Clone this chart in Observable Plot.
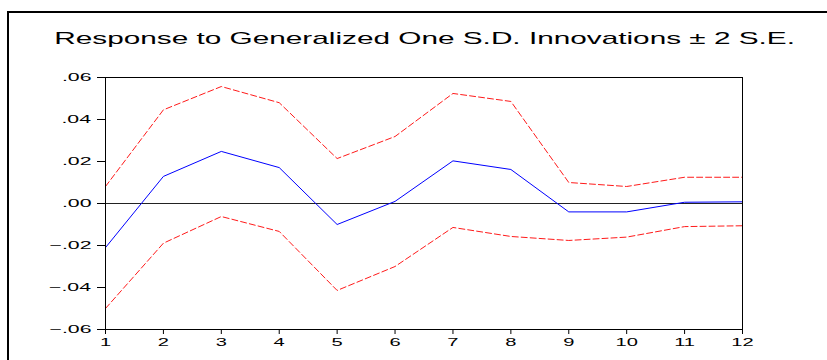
<!DOCTYPE html>
<html>
<head>
<meta charset="utf-8">
<script src="https://cdn.jsdelivr.net/npm/d3@7"></script>
<script src="https://cdn.jsdelivr.net/npm/@observablehq/plot@0.6"></script>
<style>
  html, body { margin: 0; padding: 0; background: #fff; }
  body { width: 827px; height: 360px; position: relative; overflow: hidden; font-family: Arial, "Liberation Sans", Helvetica, sans-serif; }
  #frame { position: absolute; left: 7px; top: 11px; width: 900px; height: 400px; border-left: 2px solid #000; border-top: 2px solid #000; box-sizing: border-box; }
  #title { position: absolute; left: 11px; top: 30px; width: 827px; text-align: center; font-size: 17px; line-height: 17px; color: #000; white-space: nowrap; }
  #title span { display: inline-block; transform: scaleX(1.75); transform-origin: center; }
  #chart { position: absolute; left: 0; top: 0; }
</style>
</head>
<body>
<div id="frame"></div>
<div id="title"><span>Response to Generalized One S.D. Innovations ± 2 S.E.</span></div>
<div id="chart"></div>
<script>
const steps = [1, 2, 3, 4, 5, 6, 7, 8, 9, 10, 11, 12];
const response = [-0.021, 0.0129, 0.0248, 0.0171, -0.010, 0.001, 0.0203, 0.0162, -0.004, -0.004, 0.0006, 0.0008];
const upperBand = [0.0081, 0.0446, 0.0557, 0.048, 0.0214, 0.0319, 0.0524, 0.0486, 0.010, 0.0081, 0.0125, 0.0125];
const lowerBand = [-0.050, -0.0189, -0.0062, -0.0133, -0.0414, -0.030, -0.0114, -0.0157, -0.0176, -0.016, -0.011, -0.0106];
const yTicks = [-0.06, -0.04, -0.02, 0, 0.02, 0.04, 0.06];

const rows = (vals) => steps.map((s, i) => ({step: s, value: vals[i]}));
const fmt = (v) => d3.format(".2f")(v).replace("0.", ".");

const chart = Plot.plot({
  width: 827,
  height: 360,
  marginLeft: 105,
  marginRight: 85,
  marginTop: 77,
  marginBottom: 31,
  style: {fontFamily: 'Arial, "Liberation Sans", Helvetica, sans-serif', fontSize: "11.5px", color: "#000", background: "transparent"},
  x: {domain: [1, 12], ticks: steps, tickSize: 5, tickPadding: 3, tickFormat: d => String(d), label: null},
  y: {domain: [-0.06, 0.06], ticks: yTicks, tickSize: 8, tickPadding: 6, tickFormat: fmt, label: null},
  marks: [
    Plot.ruleY([0], {stroke: "#222", strokeWidth: 1}),
    Plot.line(rows(upperBand), {x: "step", y: "value", stroke: "#ff1a1a", strokeWidth: 1, strokeDasharray: "6,3"}),
    Plot.line(rows(lowerBand), {x: "step", y: "value", stroke: "#ff1a1a", strokeWidth: 1, strokeDasharray: "6,3"}),
    Plot.line(rows(response), {x: "step", y: "value", stroke: "#0000ff", strokeWidth: 1}),
    Plot.frame({stroke: "#000", strokeWidth: 1})
  ]
});
document.getElementById("chart").appendChild(chart);

// stretch tick labels horizontally, like the reference, keeping their anchor point
function stretch(selector, anchor, k) {
  chart.querySelectorAll(selector).forEach(t => {
    const b = t.getBBox();
    const ax = anchor === "end" ? b.x + b.width : b.x + b.width / 2;
    const prev = t.getAttribute("transform") || "";
    t.setAttribute("transform", `${prev} translate(${ax},0) scale(${k},1) translate(${-ax},0)`);
  });
}
stretch('[aria-label="y-axis tick label"] text', "end", 1.85);
stretch('[aria-label="x-axis tick label"] text', "middle", 1.75);
chart.querySelectorAll('[aria-label="y-axis tick"], [aria-label="x-axis tick"]').forEach(g => {
  g.setAttribute("stroke", "#000");
});
</script>
</body>
</html>
